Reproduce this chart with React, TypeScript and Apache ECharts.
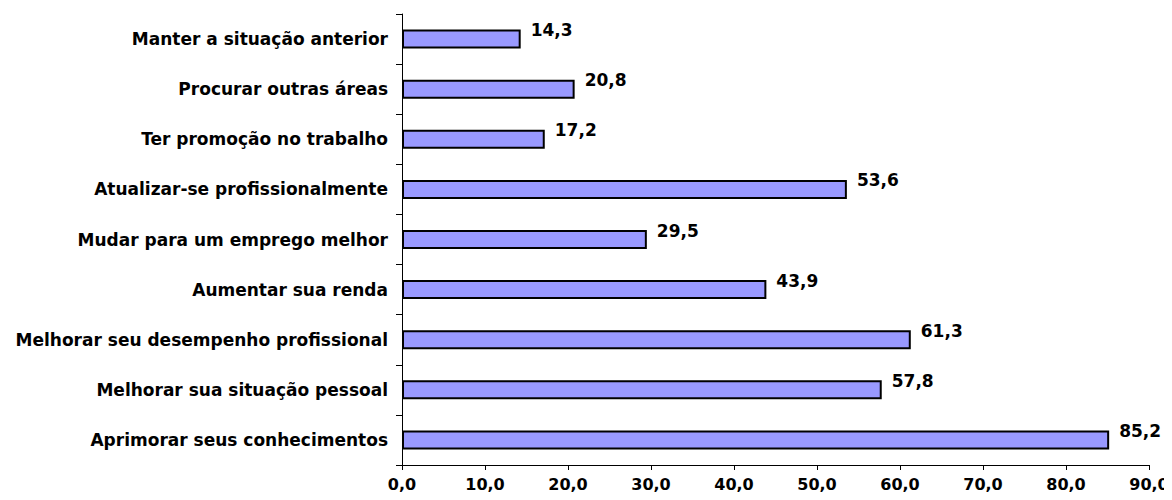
import React, { useEffect, useRef } from "react";
import * as echarts from "echarts";

const categories = [
  "Manter a situação anterior",
  "Procurar outras áreas",
  "Ter promoção no trabalho",
  "Atualizar-se profissionalmente",
  "Mudar para um emprego melhor",
  "Aumentar sua renda",
  "Melhorar seu desempenho profissional",
  "Melhorar sua situação pessoal",
  "Aprimorar seus conhecimentos",
];
const values = [14.3, 20.8, 17.2, 53.6, 29.5, 43.9, 61.3, 57.8, 85.2];
const xMin = 0;
const xMax = 90;
const xStep = 10;

const fmt = (v: number) => v.toFixed(1).replace(".", ",");
const FONT = "'DejaVu Sans', Verdana, sans-serif";

export default function App() {
  const ref = useRef<HTMLDivElement>(null);
  useEffect(() => {
    if (!ref.current) return;
    const chart = echarts.init(ref.current, undefined, { renderer: "svg" });
    chart.setOption({
      animation: false,
      grid: { left: 402, right: 23, top: 14, bottom: 35, containLabel: false },
      xAxis: {
        type: "value",
        min: xMin,
        max: xMax,
        interval: xStep,
        axisLine: { show: true, lineStyle: { color: "#000", width: 1 } },
        axisTick: { show: true, length: 5, lineStyle: { color: "#000" } },
        splitLine: { show: false },
        axisLabel: {
          formatter: (v: number) => fmt(v),
          color: "#000",
          fontFamily: FONT,
          fontWeight: "bold",
          fontSize: 16,
          margin: 11,
        },
      },
      yAxis: {
        type: "category",
        data: categories,
        inverse: true,
        axisLine: { show: true, lineStyle: { color: "#000", width: 1 } },
        axisTick: { show: true, length: 6, lineStyle: { color: "#000" } },
        axisLabel: {
          color: "#000",
          fontFamily: FONT,
          fontWeight: "bold",
          fontSize: 17,
          margin: 14,
        },
      },
      series: [
        {
          type: "bar",
          data: values,
          barWidth: 19,
          itemStyle: { color: "#9999FF", borderColor: "#000", borderWidth: 2 },
          label: {
            show: true,
            position: "right",
            distance: 10,
            offset: [0, -9],
            formatter: (p: any) => fmt(p.value),
            color: "#000",
            fontFamily: FONT,
            fontWeight: "bold",
            fontSize: 17,
          },
        },
      ],
    });
    return () => chart.dispose();
  }, []);
  return <div ref={ref} style={{ width: 1172, height: 500, margin: -8 }} />;
}
